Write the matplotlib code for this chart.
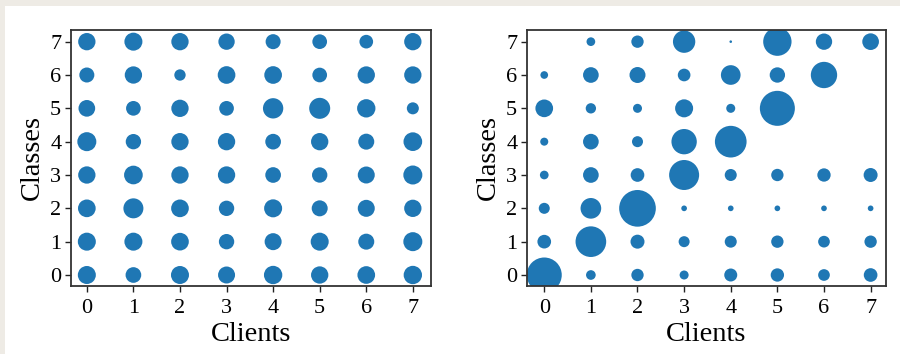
import numpy as np
import matplotlib
matplotlib.use("Agg")
import matplotlib.pyplot as plt
from matplotlib.patches import Rectangle

# Samples per (class, client); rows are classes 7..0, columns are clients 0..7
clients = [0, 1, 2, 3, 4, 5, 6, 7]
classes_top_down = [7, 6, 5, 4, 3, 2, 1, 0]

iid_counts = [
    [270, 292, 270, 240, 203, 194, 168, 270],
    [203, 270, 116, 281, 281, 194, 270, 270],
    [250, 194, 270, 194, 372, 397, 303, 130],
    [325, 212, 270, 270, 221, 270, 230, 314],
    [270, 314, 270, 270, 221, 212, 260, 325],
    [281, 360, 281, 212, 292, 230, 260, 270],
    [292, 292, 281, 212, 260, 292, 230, 325],
    [292, 221, 292, 260, 303, 270, 281, 303],
]

noniid_counts = [
    [0, 68, 137, 449, 6, 723, 240, 250],
    [53, 221, 230, 144, 348, 212, 624, 0],
    [281, 96, 73, 292, 73, 1103, 0, 0],
    [58, 221, 109, 578, 903, 0, 0, 0],
    [68, 221, 168, 810, 130, 137, 160, 176],
    [109, 384, 1210, 29, 29, 29, 29, 29],
    [168, 846, 176, 109, 130, 137, 123, 137],
    [1103, 84, 137, 73, 152, 160, 123, 168],
]

SIZE_SCALE = 0.576
DOT_COLOR = "#1f77b4"

plt.rcParams["font.family"] = ["Liberation Serif", "DejaVu Serif"]

fig = plt.figure(figsize=(9, 3.54), dpi=100, facecolor="#eeebe5")
fig.patches.append(Rectangle((5 / 900, 0), 1 - 5 / 900, 348 / 354,
                             transform=fig.transFigure, facecolor="white",
                             edgecolor="none", zorder=-10))

ax_l = fig.add_axes([71 / 900, 68 / 354, 360 / 900, 256 / 354])
ax_r = fig.add_axes([527 / 900, 68 / 354, 359 / 900, 256 / 354])


def draw(ax, counts, xlim):
    xs, ys, ss = [], [], []
    for r, cls in enumerate(classes_top_down):
        for c, cl in enumerate(clients):
            n = counts[r][c]
            if n > 0:
                xs.append(cl)
                ys.append(cls)
                ss.append(n * SIZE_SCALE)
    ax.scatter(xs, ys, s=ss, c=DOT_COLOR, linewidths=0, zorder=2)
    ax.set_xlim(*xlim)
    ax.set_ylim(-0.33, 7.35)
    ax.set_xticks(clients)
    ax.set_yticks(sorted(classes_top_down))
    ax.tick_params(labelsize=16, length=4, width=1, color="#222222")
    ax.tick_params(axis="x", pad=5.5)
    ax.tick_params(axis="y", pad=3)
    ax.set_xlabel("Clients", fontsize=20.5, labelpad=3)
    ax.set_ylabel("Classes", fontsize=20.5, labelpad=4)
    for sp in ax.spines.values():
        sp.set_linewidth(1.3)
        sp.set_color("#333333")


draw(ax_l, iid_counts, (-0.34, 7.39))
draw(ax_r, noniid_counts, (-0.37, 7.33))

fig.savefig("out.png", dpi=100, facecolor=fig.get_facecolor())
